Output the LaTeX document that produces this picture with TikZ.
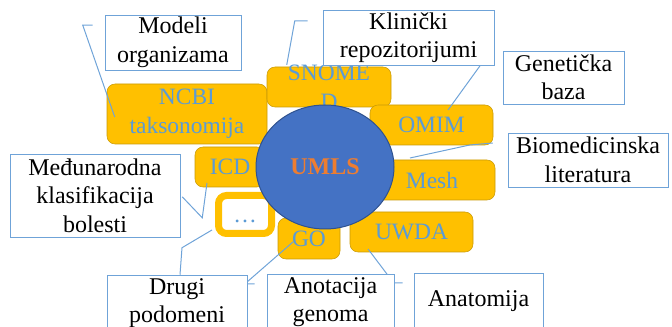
\documentclass[tikz,border=0pt]{standalone}
\usepackage{fontspec}
\setmainfont{Liberation Serif}
\usetikzlibrary{shapes,arrows,positioning,calc}
\definecolor{boxorange}{HTML}{FFC000}
\definecolor{boxedge}{HTML}{C99A06}
\definecolor{txtblue}{HTML}{5B9BD5}
\definecolor{callblue}{HTML}{6FA3D8}
\definecolor{umlsblue}{HTML}{4472C4}
\definecolor{umlsedge}{HTML}{2F528F}
\definecolor{umlsorange}{HTML}{ED7D31}
\pgfdeclarelayer{front}
\pgfsetlayers{main,front}

\begin{document}
\begin{tikzpicture}[x=0.75pt,y=-0.75pt,
    otext/.style={text=txtblue,align=center,font=\fontsize{17.6}{21.75}\selectfont},
    obox/.style={otext,draw=boxedge,fill=boxorange,rounded corners=6pt,inner sep=0pt},
    cbox/.style={draw=callblue,fill=white,align=center,inner sep=0pt,font=\fontsize{18}{21.4}\selectfont},
    leader/.style={draw=callblue,line width=0.75pt}]
    \useasboundingbox (0,0) rectangle (672,327);
    \node[obox,minimum width=120pt,minimum height=45pt] (ncbi) at (187,114) {NCBI\\taksonomija};
    \node[obox,minimum width=93pt,minimum height=30pt,label={[otext]center:{SNOME\\D}}] (snomed) at (329,87) {};
    \node[obox,minimum width=92.25pt,minimum height=30pt] (omim) at (431.5,125) {OMIM};
    \node[obox,minimum width=52.5pt,minimum height=30pt] (icd) at (230,167) {ICD};
    \node[obox,minimum width=94.5pt,minimum height=30pt] (mesh) at (432,180) {Mesh};
    \node[obox,minimum width=92.25pt,minimum height=30pt] (uwda) at (411.5,232) {UWDA};
    \node[obox,minimum width=46.5pt,minimum height=30.75pt] (go) at (309,238.5) {GO};
    \node[obox,fill=white,draw=boxorange,line width=5.25pt,minimum width=39.75pt,minimum height=28.5pt,text height=12pt,text depth=0pt] (dots) at (245,214.5) {…};
    \node[ellipse,draw=umlsedge,fill=umlsblue,line width=0.75pt,minimum width=103.5pt,minimum height=93pt,text=umlsorange,font=\fontsize{18}{21}\selectfont\bfseries] (umls) at (325,167) {UMLS};
    \begin{pgfonlayer}{front}
        \node[cbox,minimum width=102pt,minimum height=41.25pt] (modeli) at (173,42.5) {Modeli\\organizama};
        \node[cbox,minimum width=128.25pt,minimum height=41.25pt] (klinicki) at (408.5,37.5) {Klinički\\repozitorijumi};
        \node[cbox,minimum width=90.75pt,minimum height=39.75pt] (geneticka) at (563.5,77.5) {Genetička\\baza};
        \node[cbox,minimum width=120pt,minimum height=40.5pt] (biomed) at (588,160) {Biomedicinska\\literatura};
        \node[cbox,minimum width=127.5pt,minimum height=62.25pt] (medjunarodna) at (95,195.5) {Međunarodna\\klasifikacija\\bolesti};
        \node[cbox,minimum width=105pt,minimum height=42pt] (drugi) at (177,303) {Drugi\\podomeni};
        \node[cbox,minimum width=95.25pt,minimum height=42pt] (anotacija) at (330.5,302) {Anotacija\\genoma};
        \node[cbox,minimum width=96.75pt,minimum height=42pt] (anatomija) at (478.5,301) {Anatomija};
    \end{pgfonlayer}
    \draw[leader] ([xshift=-9pt,yshift=13pt]modeli.west) -- ++(-10,0) -- ([xshift=6pt,yshift=-2.25pt]ncbi.west);
    \draw[leader] ([xshift=-11.25pt,yshift=12.4pt]klinicki.west) -- ++(-13,0) -- ([xshift=15pt,yshift=16.5pt]snomed.west);
    \draw[leader] ([xshift=-7.5pt,yshift=11.6pt]geneticka.west) -- ++(-10,0) -- ([xshift=12.4pt,yshift=11.25pt]omim.center);
    \draw[leader] ([xshift=-11.25pt,yshift=12.75pt]biomed.west) -- ++(-23,2) -- ([xshift=-16.5pt,yshift=16.5pt]mesh.center);
    \draw[leader] ([xshift=1.5pt,yshift=-1pt]medjunarodna.east) -- ++(20,21) -- ([xshift=-17.25pt,yshift=-12pt]icd.center);
    \draw[leader] ([xshift=2.25pt]drugi.north) -- ++(2,-27) -- ([xshift=-24.75pt,yshift=-11.6pt]dots.center);
    \draw[leader] ([xshift=-9pt,yshift=13.5pt]anotacija.west) -- ++(-10,0) -- ([xshift=-12pt,yshift=-2.6pt]go.center);
    \draw[leader] ([xshift=-8.25pt,yshift=13.5pt]anatomija.west) -- ++(-9,0) -- ([xshift=-32.6pt,yshift=-12.75pt]uwda.center);
\end{tikzpicture}
\end{document}
